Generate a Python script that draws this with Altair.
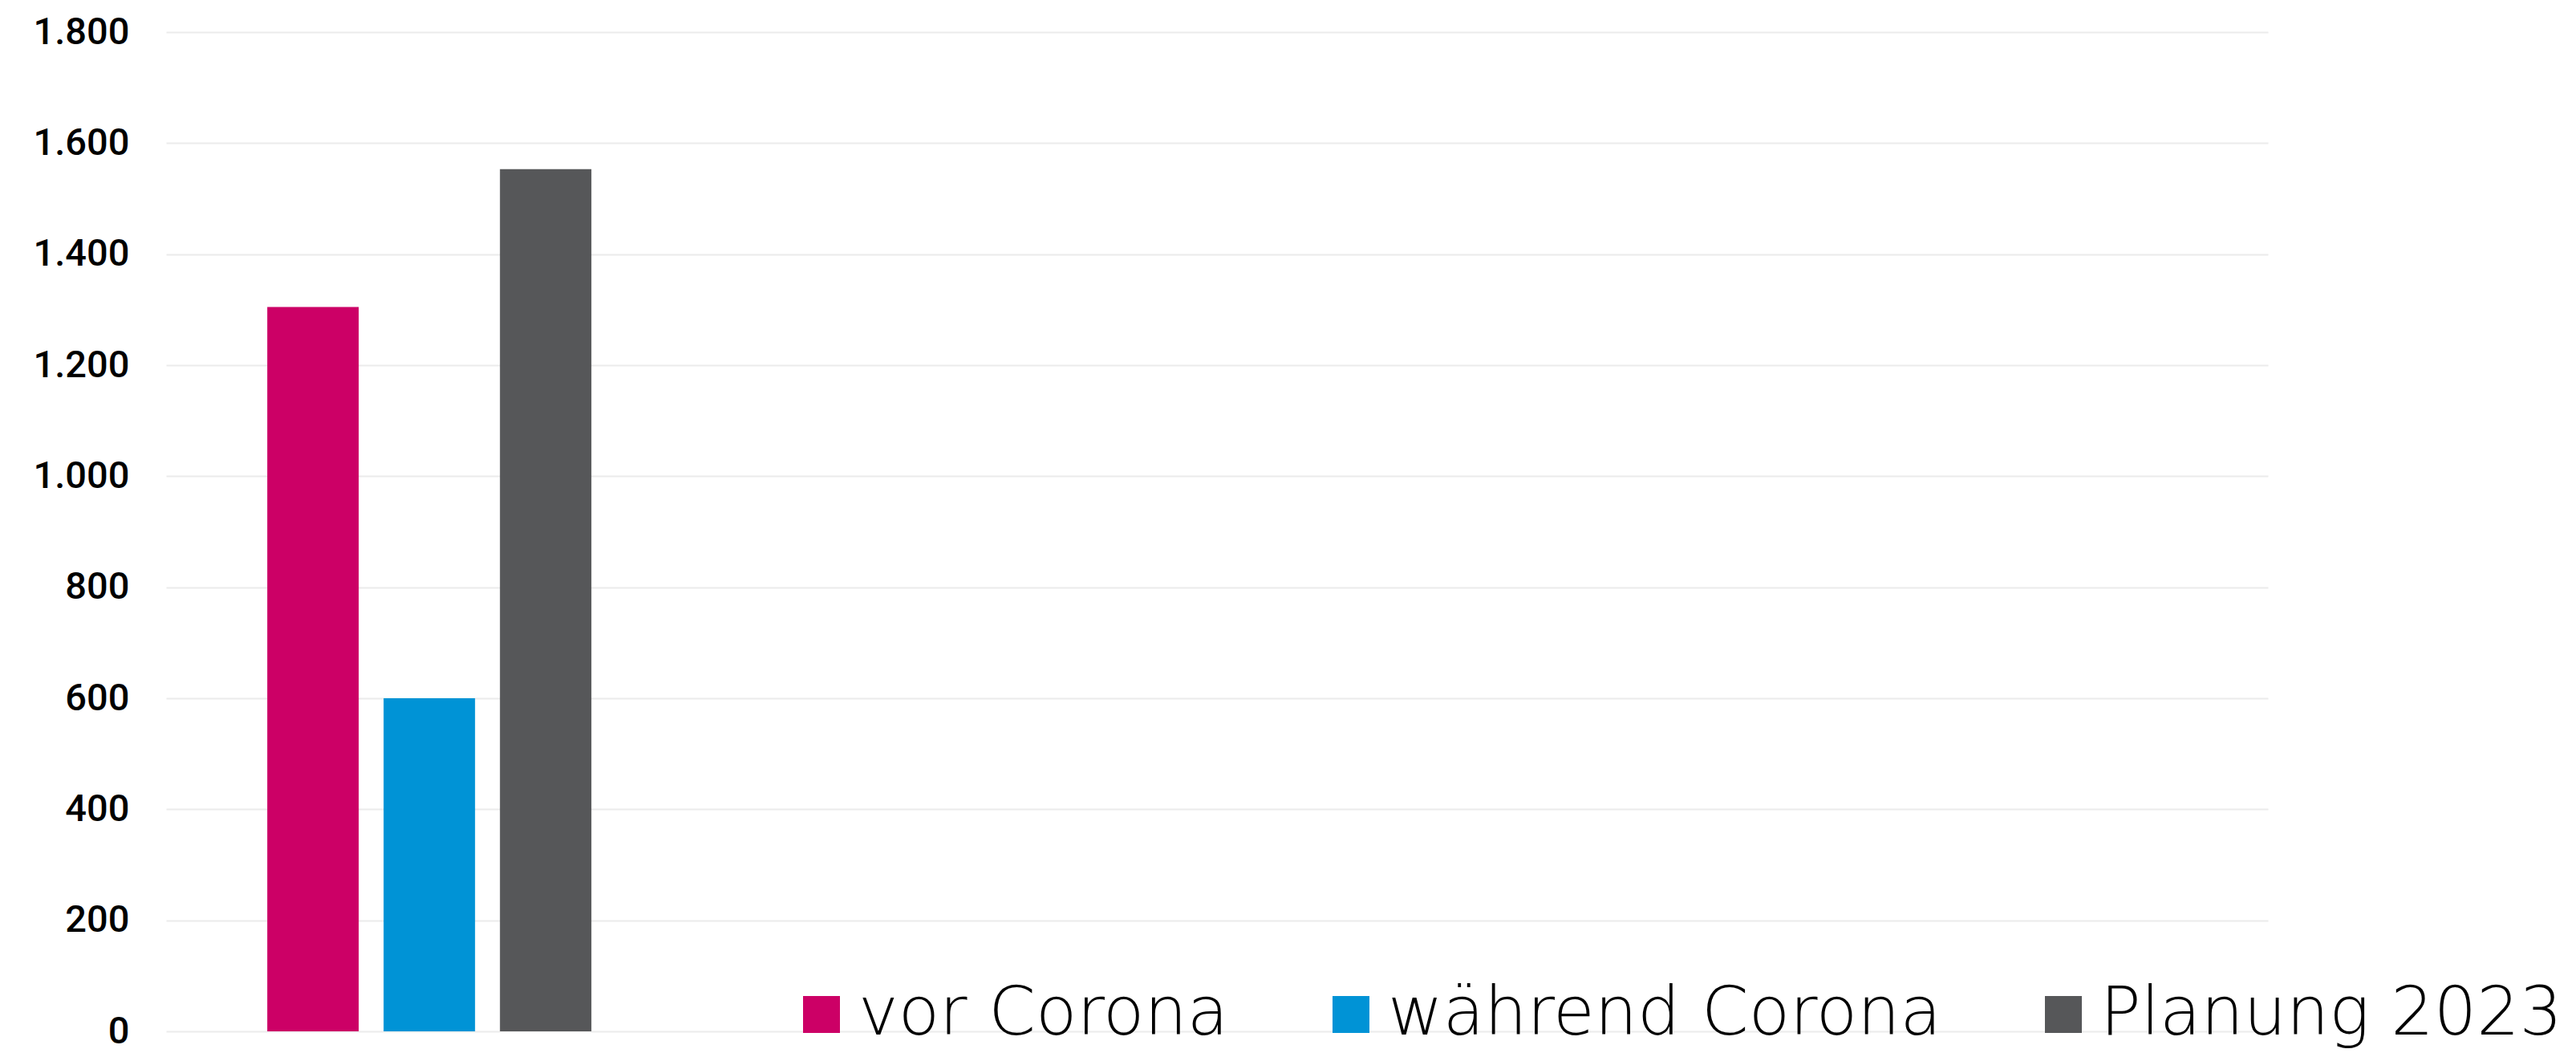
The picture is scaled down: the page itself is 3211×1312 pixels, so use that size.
import altair as alt
import pandas as pd

series = ["vor Corona", "während Corona", "Planung 2023"]
values = [1305, 600, 1553]
colors = ["#CC0066", "#0093D6", "#565759"]
slots = [1, 2, 3, 4, 5]
y_ticks = [0, 200, 400, 600, 800, 1000, 1200, 1400, 1600, 1800]

df = pd.DataFrame({"slot": [1] * len(series), "serie": series, "wert": values})

chart = alt.Chart(df).mark_bar().encode(
    x=alt.X("slot:O", scale=alt.Scale(domain=slots, paddingInner=0.177, paddingOuter=0.257), axis=None),
    xOffset=alt.XOffset("serie:N", scale=alt.Scale(domain=series, paddingInner=0.214, paddingOuter=0)),
    y=alt.Y("wert:Q", scale=alt.Scale(domain=[0, 1800], nice=False),
            axis=alt.Axis(values=y_ticks, format=",d", labelExpr="replace(datum.label, ',', '.')",
                          title=None, domain=False, ticks=False, labelPadding=46,
                          labelFontSize=47, labelFont="Roboto", labelFontWeight=500, labelColor="#000",
                          gridColor="#ebebeb", gridWidth=2)),
    color=alt.Color("serie:N", scale=alt.Scale(domain=series, range=colors),
                    legend=alt.Legend(orient="none", legendX=775, legendY=1182, direction="horizontal",
                                      title=None, symbolType="square", symbolSize=2116, symbolStrokeWidth=0,
                                      labelFontSize=84, labelFont="DejaVu Sans", labelFontWeight=200,
                                      labelColor="#000", columnPadding=110, labelOffset=4, labelLimit=2000)),
).properties(
    width=2620, height=1245,
    autosize=alt.AutoSizeParams(type="none"),
    padding={"left": 199, "top": 32, "right": 370, "bottom": 24},
).configure_view(stroke=None)

chart.save("out.html", embed_options={"renderer": "svg", "actions": False})
